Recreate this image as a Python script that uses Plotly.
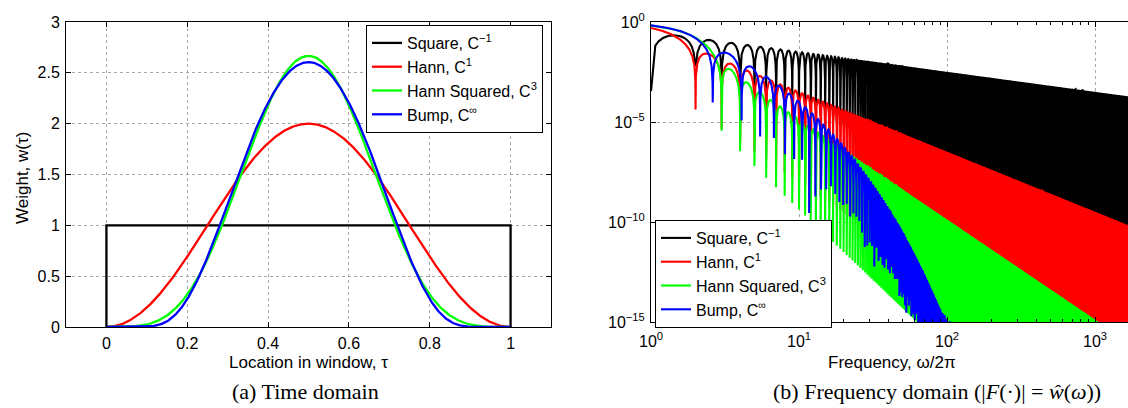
import numpy as np
import plotly.graph_objects as go

W, H = 1128, 408

# ---------------- chart content ----------------
series_names = ["Square, C<sup>−1</sup>", "Hann, C<sup>1</sup>",
                "Hann Squared, C<sup>3</sup>", "Bump, C<sup>∞</sup>"]
series_colors = ["#000000", "#ff0000", "#00ff00", "#0000ff"]

time_xticks = [0, 0.2, 0.4, 0.6, 0.8, 1]
time_yticks = [0, 0.5, 1, 1.5, 2, 2.5, 3]
freq_xtick_vals = [1, 10, 100, 1000]
freq_xtick_text = ["10<sup>0</sup>", "10<sup>1</sup>", "10<sup>2</sup>", "10<sup>3</sup>"]
freq_ytick_vals = [1e-15, 1e-10, 1e-5, 1]
freq_ytick_text = ["10<sup>−15</sup>", "10<sup>−10</sup>", "10<sup>−5</sup>", "10<sup>0</sup>"]

caption_a = "(a) Time domain"
caption_b = "(b) Frequency domain (|<i>F</i>(·)| = <i>ŵ</i>(<i>ω</i>))"
xtitle_a = "Location in window, τ"
ytitle_a = "Weight, w(τ)"
xtitle_b = "Frequency, ω/2π"

F_MAX = 1700          # right end of the frequency data
BUMP_F_MAX = 105      # bump spectrum is below 1e-15 beyond this

# ---------------- window definitions (time domain) ----------------
tau = np.linspace(0.0, 1.0, 1201)


def bump_raw(t):
    t = np.asarray(t, dtype=float)
    out = np.zeros_like(t)
    m = (t > 0) & (t < 1)
    out[m] = np.exp(-1.0 / (t[m] * (1.0 - t[m])))
    return out


_M = 4000
_s = (np.arange(_M) + 0.5) / _M * 0.5
bump_Z = 2.0 * np.sum(bump_raw(0.5 + _s)) * (0.5 / _M)

w_square = np.ones_like(tau)
w_hann = 1.0 - np.cos(2 * np.pi * tau)
w_hann2 = (2.0 / 3.0) * (1.0 - np.cos(2 * np.pi * tau)) ** 2
w_bump = bump_raw(tau) / bump_Z

sq_x = np.concatenate([[tau[0]], tau, [tau[-1]]])
sq_y = np.concatenate([[0.0], w_square, [0.0]])

# ---------------- frequency domain ----------------
base = np.logspace(0, np.log10(F_MAX), 4000)
ints = np.arange(1, F_MAX + 1)


def freq_grid(c):
    eps = c / ints.astype(float) ** 2
    nn = np.clip(np.round(base).astype(int), 1, F_MAX)
    keep = np.abs(base - nn) > c / nn.astype(float) ** 2
    pts = np.concatenate([base[keep], ints - eps, ints + eps, ints + 0.5, [1.00035]])
    pts = pts[(pts > 1.0) & (pts <= F_MAX)]
    return np.unique(pts)


f_sq = freq_grid(0.056)
f_sm = freq_grid(1e-3)


def F_square(f):
    return np.abs(np.sin(np.pi * f)) / (np.pi * f)


def F_hann(f):
    return np.abs(np.sin(np.pi * f)) / (np.pi * f * np.abs(f ** 2 - 1))


def F_hann2(f):
    return 4 * np.abs(np.sin(np.pi * f)) / (np.pi * f * np.abs(f ** 2 - 1) * np.abs(f ** 2 - 4))


f_bump = np.arange(1.0, BUMP_F_MAX, 0.0015)
Mq = 1000
sq_nodes = (np.arange(Mq) + 0.5) / Mq * 0.5
wq = bump_raw(0.5 + sq_nodes) / bump_Z * (0.5 / Mq) * 2.0
Fb = np.empty_like(f_bump)
for i in range(0, len(f_bump), 2000):
    fc = f_bump[i:i + 2000]
    Fb[i:i + 2000] = np.cos(2 * np.pi * np.outer(fc, sq_nodes)) @ wq
Fb = np.abs(Fb)
Fb[Fb <= 0] = 1e-30

spec_x = [f_sq, f_sm, f_sm, f_bump]
spec_y = [F_square(f_sq), F_hann(f_sm), F_hann2(f_sm), Fb]
time_y = [None, w_hann, w_hann2, w_bump]

# ---------------- figure ----------------
fig = go.Figure()
LW = 2.3
for k in range(4):
    x = sq_x if k == 0 else tau
    y = sq_y if k == 0 else time_y[k]
    fig.add_trace(go.Scatter(x=x, y=y, mode="lines", name=series_names[k],
                             line=dict(color=series_colors[k], width=LW),
                             xaxis="x", yaxis="y", legend="legend"))
for k in range(4):
    fig.add_trace(go.Scatter(x=spec_x[k], y=spec_y[k], mode="lines", name=series_names[k],
                             line=dict(color=series_colors[k], width=2.1),
                             xaxis="x2", yaxis="y2", legend="legend2"))

FONT = "Liberation Sans, Arial, Helvetica, sans-serif"
SERIF = "Liberation Serif, DejaVu Serif, serif"
GRID = dict(showgrid=True, gridcolor="#a8a8a8", griddash="dot", gridwidth=1)
AX = dict(showline=True, linecolor="black", linewidth=1, mirror="ticks",
          ticks="inside", ticklen=5, tickcolor="black", tickwidth=1,
          zeroline=False, automargin=False,
          tickfont=dict(family=FONT, size=16, color="black"))


def px(x):
    return x / W


def py(y):
    return 1 - y / H


fig.update_layout(
    width=W, height=H, margin=dict(l=0, r=0, t=0, b=0, autoexpand=False),
    paper_bgcolor="white", plot_bgcolor="white",
    font=dict(family=FONT, size=16, color="black"),
    xaxis=dict(domain=[px(66), px(551)], range=[-0.1, 1.1], tickmode="array",
               tickvals=time_xticks, anchor="y", ticklabelstandoff=2, **GRID, **AX),
    yaxis=dict(domain=[py(327), py(22)], range=[0, 3], tickmode="array",
               tickvals=time_yticks, anchor="x", ticklabelstandoff=2, **GRID, **AX),
    xaxis2=dict(domain=[px(651), 1.0], type="log", range=[0, (W - 651) / 148.0],
                tickmode="array", tickvals=freq_xtick_vals, ticktext=freq_xtick_text, anchor="y2",
                ticklabelstandoff=5,
                minor=dict(ticks="inside", ticklen=3, tickcolor="black",
                           tickvals=[k * 10 ** d for d in range(4) for k in range(2, 10)]),
                **GRID, **AX),
    yaxis2=dict(domain=[py(322), py(22)], type="log", range=[-15, 0],
                tickmode="array", tickvals=freq_ytick_vals, ticktext=freq_ytick_text, anchor="x2",
                ticklabelstandoff=2,
                **GRID, **{**AX, "mirror": False}),
    legend=dict(x=px(366), y=py(25), xanchor="left", yanchor="top",
                bgcolor="white", bordercolor="black", borderwidth=1,
                font=dict(family=FONT, size=16), tracegroupgap=0),
    legend2=dict(x=px(655), y=py(220), xanchor="left", yanchor="top",
                 bgcolor="white", bordercolor="black", borderwidth=1,
                 font=dict(family=FONT, size=16), tracegroupgap=0),
    showlegend=True,
)

ann = [
    dict(text=xtitle_a, x=px(308), y=py(362), font=dict(family=FONT, size=17)),
    dict(text=xtitle_b, x=px(892), y=py(362), font=dict(family=FONT, size=17)),
    dict(text=ytitle_a, x=px(22), y=py(178), textangle=-90, font=dict(family=FONT, size=17)),
    dict(text=caption_a, x=px(305), y=py(391), font=dict(family=SERIF, size=22)),
    dict(text=caption_b, x=px(937), y=py(391), font=dict(family=SERIF, size=22)),
]
for a in ann:
    fig.add_annotation(xref="paper", yref="paper", showarrow=False,
                       xanchor="center", yanchor="middle", **a)

fig.write_html("out.html")
